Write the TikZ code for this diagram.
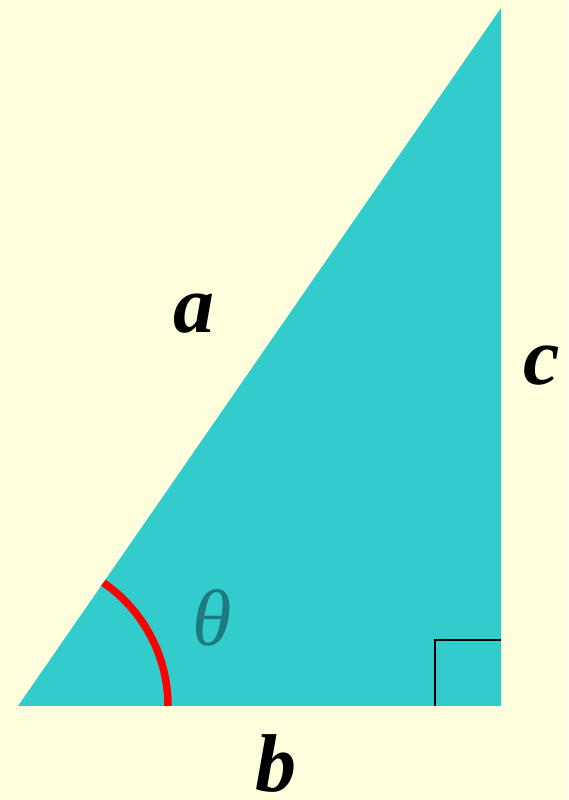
\documentclass[tikz,border=0pt]{standalone}
\usepackage{fontspec}
\setmainfont{Liberation Serif}
\definecolor{bg}{HTML}{FFFFDD}
\definecolor{tri}{HTML}{33CCCC}
\definecolor{thcol}{HTML}{1F7A80}
\begin{document}
\begin{tikzpicture}[x=1pt,y=1pt,
  lbl/.style={inner sep=0pt,font=\fontsize{82}{82}\selectfont\bfseries\itshape},
  thlbl/.style={inner sep=0pt,text=thcol,font=\fontsize{80}{80}\selectfont\itshape}]
\fill[bg] (0,0) rectangle (568,800);
\useasboundingbox (0,0) rectangle (568,800);
\coordinate (A) at (18,94);
\coordinate (B) at (501,792);
\coordinate (C) at (501,94);
\fill[tri] (A) -- (B) -- (C) -- cycle;
\coordinate (S1) at (435,94);
\coordinate (S2) at (435,160);
\coordinate (S3) at (501,160);
\draw[line width=2.5pt] (S1) -- (S2) -- (S3);
\draw[red,line width=7.5pt] ([shift={(0:150)}]A) arc[start angle=0,end angle=55.3,radius=150];
\node[lbl,anchor=base] (la) at (194,467) {a};
\node[lbl,anchor=base] (lc) at (542,415) {c};
\node[lbl,anchor=base] (lb) at (276,9) {b};
\node[thlbl] (th) at (212,182) {θ};
\end{tikzpicture}
\end{document}
